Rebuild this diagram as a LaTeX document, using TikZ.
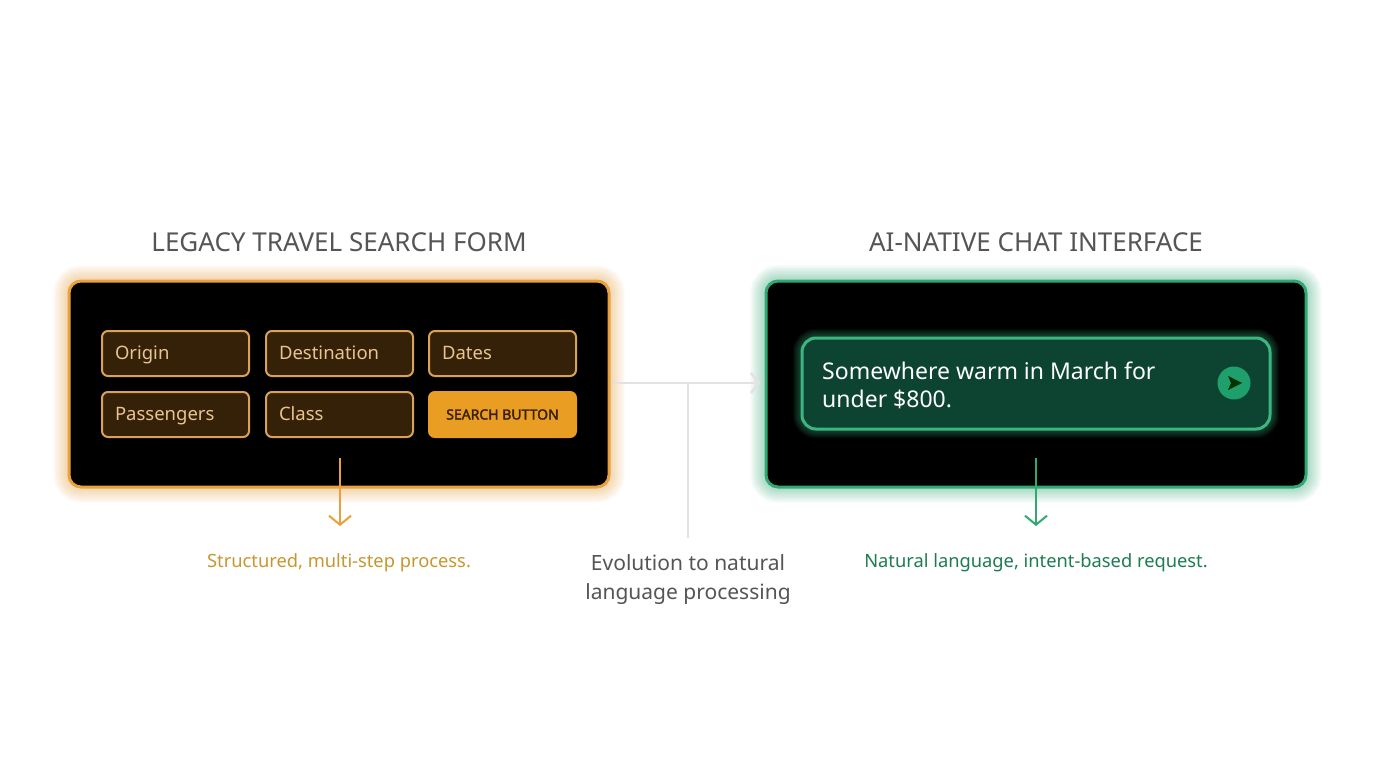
\documentclass[tikz,border=0pt]{standalone}
\usepackage{fontspec}
\setmainfont{Noto Sans}
\newfontfamily\btnfont{Noto Sans}[FakeBold=2.2]
\usetikzlibrary{arrows.meta}
\definecolor{orng}{HTML}{E9A23B}
\definecolor{orngtxt}{HTML}{C8962E}
\definecolor{fieldbd}{HTML}{D9A256}
\definecolor{fieldfill}{HTML}{352108}
\definecolor{fieldtxt}{HTML}{E8C48E}
\definecolor{btnfill}{HTML}{E99D22}
\definecolor{btntxt}{HTML}{3A2000}
\definecolor{grn}{HTML}{2FA874}
\definecolor{grntxt}{HTML}{1C7C52}
\definecolor{chatfill}{HTML}{0D4431}
\definecolor{chatbd}{HTML}{3DB582}
\definecolor{sendfill}{HTML}{1E9F6C}
\definecolor{ttl}{HTML}{555555}
\definecolor{conn}{HTML}{E2E2E2}
\tikzset{
  panel/.style={draw, line width=3pt, fill=black, rounded corners=12pt, minimum width=540pt, minimum height=206pt},
  field/.style={draw=fieldbd, line width=2pt, fill=fieldfill, rounded corners=6pt, minimum width=147pt, minimum height=45pt,
     text width=121pt, inner xsep=13pt, align=left, text height=15.5pt, text depth=4pt, text=fieldtxt, font=\fontsize{18.5}{20}\selectfont},
  title/.style={text=ttl, font=\fontsize{26}{30}\selectfont},
  caption/.style={font=\fontsize{18.3}{22}\selectfont},
  downarrow/.style={line width=2pt, -{Straight Barb[length=9pt,width=22pt,line width=2pt]}},
}
\begin{document}
\begin{tikzpicture}[x=1pt,y=-1pt]
\path[use as bounding box, fill=white] (0,0) rectangle (1376,768);

% glows
\foreach \i in {1,...,12}{
  \draw[orng, opacity=0.035, line width={3+2.4*\i}, rounded corners=12pt] (69,281) rectangle (609,487);
  \draw[grn, opacity=0.035, line width={3+2.4*\i}, rounded corners=12pt] (766,281) rectangle (1306,487);
}

% titles
\node[title] (ltitle) at (339,242) {LEGACY TRAVEL SEARCH FORM};
\node[title] (rtitle) at (1036,242) {AI-NATIVE CHAT INTERFACE};

% panels
\node[panel, draw=orng] (lbox) at (339,384) {};
\node[panel, draw=grn] (rbox) at (1036,384) {};

% form fields
\node[field] (origin) at (175.5,353.5) {Origin};
\node[field] (dest) at (339.5,353.5) {Destination};
\node[field] (dates) at (502.5,353.5) {Dates};
\node[field] (pass) at (175.5,414.5) {Passengers};
\node[field] (class) at (339.5,414.5) {Class};
\node[draw=btnfill, line width=2pt, fill=btnfill, rounded corners=6pt, minimum width=147pt, minimum height=45pt,
  text=btntxt, font=\btnfont\fontsize{14}{16}\selectfont] (search) at (502.5,414.5) {SEARCH BUTTON};

% chat glow and input
\foreach \i in {1,...,7}{
  \draw[chatbd, opacity=0.06, line width={3+2.2*\i}, rounded corners=14pt] (802,338) rectangle (1270,429);
}
\node[draw=chatbd, line width=3pt, fill=chatfill, rounded corners=14pt, minimum width=468pt, minimum height=91pt] (chat) at (1036,383.5) {};
\node[anchor=west, text=white, align=left, font=\fontsize{23}{28}\selectfont, inner sep=0pt] (query) at (822,385) {Somewhere warm in March for\\under \$800.};
\node[circle, fill=sendfill, minimum size=33pt, inner sep=0pt] (send) at (1234,383) {};
\fill[black!80!green] ([xshift=-6pt,yshift=-7pt]send.center) -- ([xshift=8pt]send.center) -- ([xshift=-6pt,yshift=7pt]send.center) -- ([xshift=-3pt]send.center) -- cycle;

% captions
\node[caption, text=orngtxt] (lcap) at (339,563) {Structured, multi-step process.};
\node[caption, text=grntxt] (rcap) at (1036,563) {Natural language, intent-based request.};
\node[text=ttl, align=center, font=\fontsize{21}{29}\selectfont] (mid) at (688,580) {Evolution to natural\\language processing};

% down arrows
\coordinate (lstart) at (340,458);
\coordinate (lend) at (340,526);
\coordinate (rstart) at (1036,458);
\coordinate (rend) at (1036,526);
\draw[downarrow, orng] (lstart) -- (lend);
\draw[downarrow, grn] (rstart) -- (rend);

% middle connector
\coordinate (junc) at (688,383);
\coordinate (vend) at (688,538);
\draw[conn, line width=2.5pt, -{Straight Barb[length=8pt,width=20pt,line width=2.5pt]}] ([xshift=3pt]lbox.east |- junc) -- ([xshift=-4pt]rbox.west |- junc);
\draw[conn, line width=1.5pt] (junc) -- (vend);
\end{tikzpicture}
\end{document}
